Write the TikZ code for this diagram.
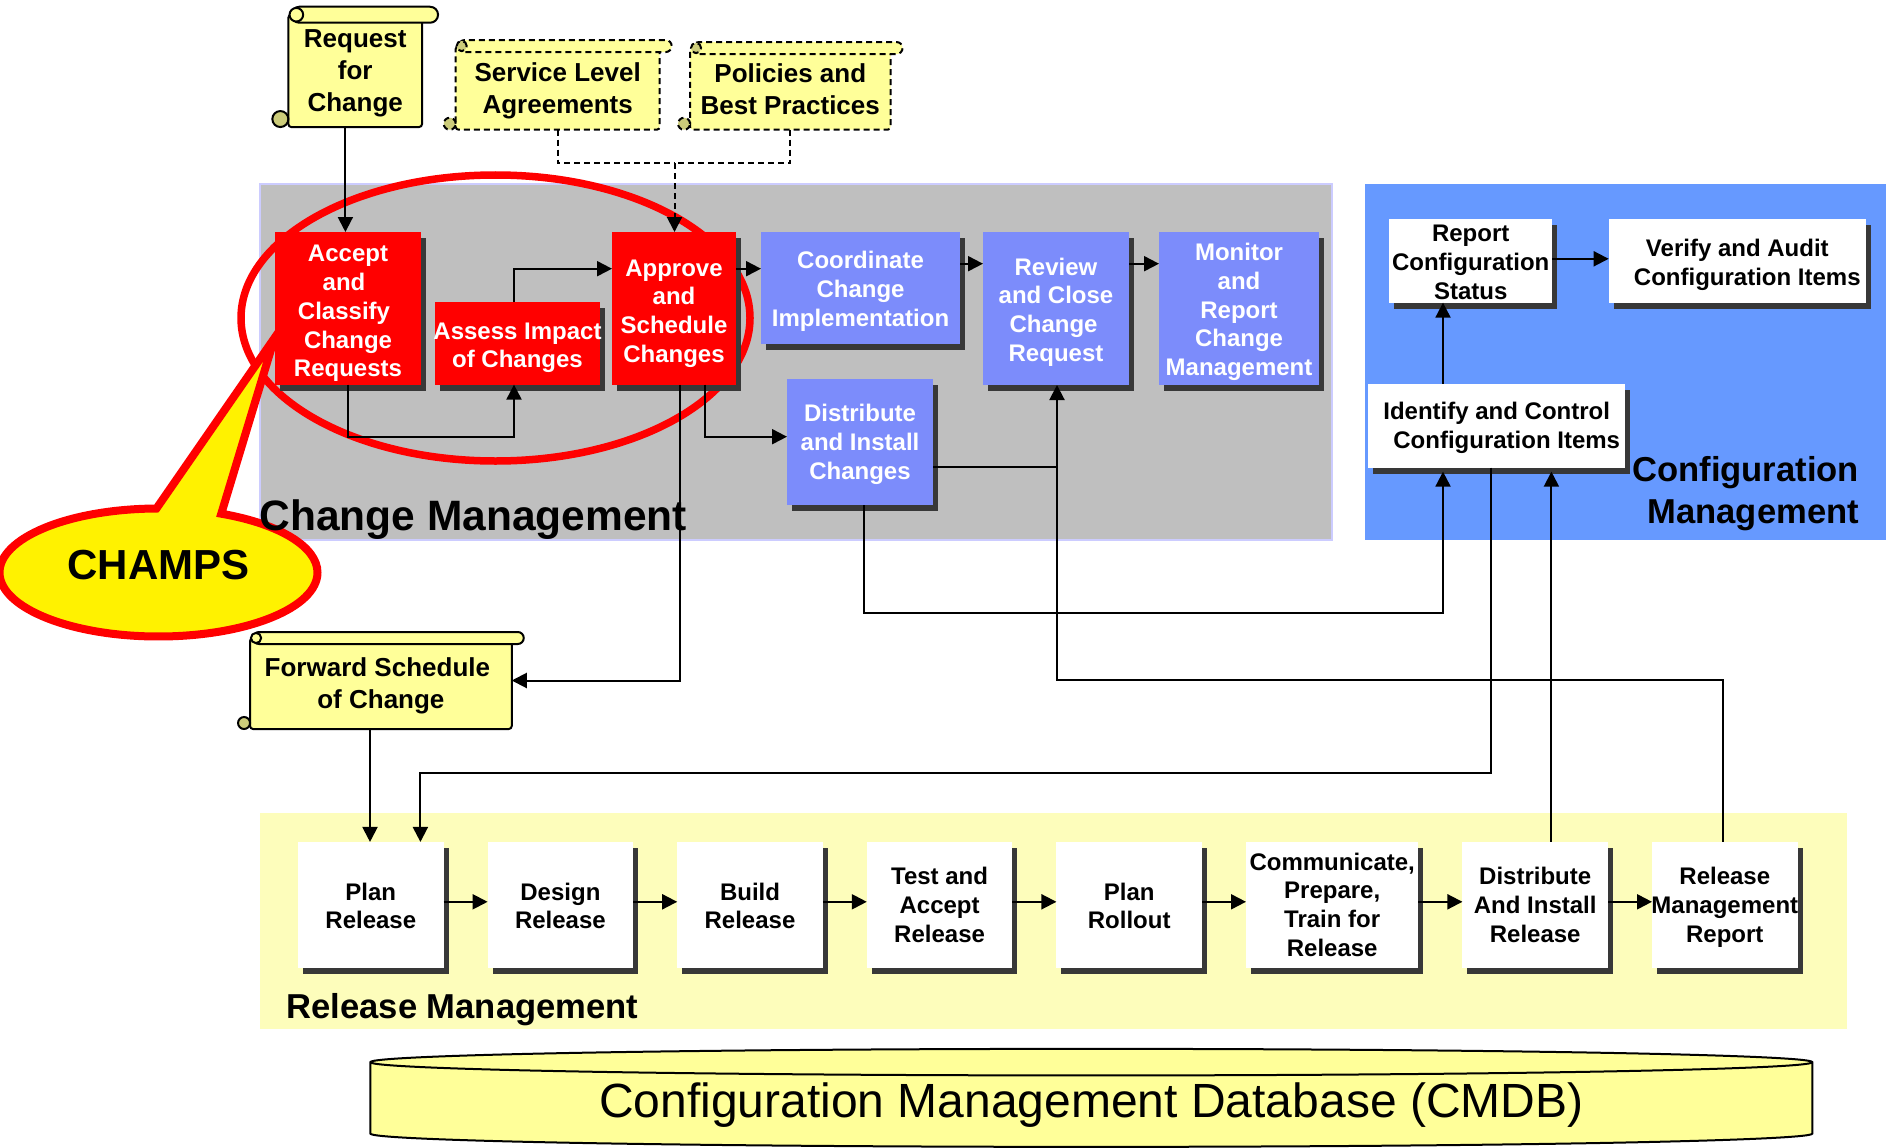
\documentclass[tikz,border=0pt]{standalone}
\usepackage{fontspec}
\setmainfont{Liberation Sans}
\usetikzlibrary{arrows.meta,positioning,shapes.geometric,shapes.callouts,shadows}

\definecolor{panelgrey}{HTML}{BFBFBF}
\definecolor{panelline}{HTML}{CCCCFF}
\definecolor{panelblue}{HTML}{6699FF}
\definecolor{panelyellow}{HTML}{FDFDBB}
\definecolor{boxblue}{HTML}{7C8CFB}
\definecolor{docyellow}{HTML}{FFFF99}
\definecolor{docdark}{HTML}{CCCC7A}
\definecolor{shadowgrey}{HTML}{383838}

\newcommand{\firstline}[1]{\rule{0pt}{#1pt}}

\begin{document}
\begin{tikzpicture}[%
	x=1pt, y=-1pt,
	>={Triangle[length=15pt,width=15pt]},
	line width=2pt,
	boxtext/.style={font=\fontsize{24}{28.8}\selectfont\bfseries},
	doctext/.style={font=\fontsize{26}{32}\selectfont\bfseries},
	box/.style={boxtext, align=center, inner ysep=0pt, inner xsep=-5pt, outer sep=0pt,
		general shadow={fill=shadowgrey, shadow xshift=5pt, shadow yshift=-6pt}},
	redbox/.style={box, fill=red, text=white},
	bluebox/.style={box, fill=boxblue, text=white},
	whitebox/.style={box, fill=white},
	relbox/.style={whitebox, minimum height=125.7pt, minimum width=145.6pt},
	dashline/.style={dash pattern=on 6pt off 4pt},
	arr/.style={draw,->},
	scroll/.style={doctext, draw, fill=docyellow, rounded corners=3pt, align=center,
		inner sep=0pt, outer sep=0pt},
	panellabel/.style={font=\fontsize{#1}{42}\selectfont\bfseries}
]

\useasboundingbox (0,0) rectangle (1886,1147.5);

% panels
\fill[panelline] (259,183.5) rectangle (1332.5,541);
\fill[panelgrey] (261,185.5) rectangle (1330.5,539);
\fill[panelblue] (1365,184) rectangle (1886,540);
\fill[panelyellow] (260,813) rectangle (1847,1029);

\node[cylinder, shape border rotate=90, draw, line width=2pt, aspect=0.027,
	cylinder uses custom fill, cylinder body fill=docyellow, cylinder end fill=docyellow,
	minimum height=98pt, minimum width=1442pt, inner sep=0pt,
	font=\fontsize{48}{56}\selectfont] (cmdb) at (1091.3,1105) {\raisebox{-17pt}{Configuration Management Database (CMDB)}};

\node[ellipse, draw=red, line width=7.5pt, minimum width=509pt, minimum height=286pt, inner sep=0pt] (ring) at (495.5,318) {};
\node[ellipse callout, draw=red, fill=yellow, line width=8pt, minimum width=318pt, minimum height=128pt, inner sep=0pt,
	callout absolute pointer={(274.5,338)}, callout pointer arc=24,
	font=\fontsize{42}{50}\selectfont\bfseries] (champs) at (158.5,572.5) {\raisebox{16pt}{CHAMPS}};

\node[font=\fontsize{42.5}{50}\selectfont\bfseries, anchor=base west, inner sep=0pt] (changelabel) at (258.5,530) {Change Management};
\node[panellabel=34.6, anchor=base west, inner sep=0pt] (releaselabel) at (285.5,1018) {Release Management};
\node[panellabel=34.6, align=right, anchor=base east, inner sep=0pt] (configlabel) at (1860,523) {Configuration\\Management};

% documents
\node[scroll, minimum width=133.7pt, minimum height=112.3pt] (rfc) at (355.2,70.9) {\firstline{23.4}Request\\for\\Change};
\node[scroll, dashline, minimum width=204pt, minimum height=83.7pt] (sla) at (557.7,87.9) {\firstline{23.8}Service Level\\Agreements};
\node[scroll, dashline, minimum width=200.5pt, minimum height=81.7pt] (pol) at (790.3,88.9) {\firstline{20.2}Policies and\\Best Practices};
\node[scroll, minimum width=261.7pt, minimum height=91pt] (forward) at (380.9,683.5) {\firstline{23}Forward Schedule\hspace*{7pt}\\of Change};

\foreach \name/\rad/\sty/\curl in {rfc/8/solid/docyellow,sla/6/dashline/docdark,pol/6/dashline/docdark,forward/6/solid/docyellow} {
	\draw[\sty, fill=docyellow, rounded corners=\rad pt]
		([xshift=3pt,yshift=\rad pt]\name.north west) rectangle ([xshift=2*\rad pt,yshift=-\rad pt]\name.north east);
	\draw[\sty, fill=\curl] ([xshift=\rad pt]\name.north west) circle[radius=0.85*\rad pt];
	\draw[\sty, fill=docdark] ([xshift=-\rad pt,yshift=\rad pt]\name.south west) circle[radius=\rad pt];
}

% change management
\node[redbox, minimum width=146pt, minimum height=152.6pt] (accept) at (348,308.3) {\firstline{27}Accept\\and\rule{8pt}{0pt}\\Classify\rule{8pt}{0pt}\\Change\\Requests};
\node[redbox, minimum width=165pt, minimum height=82.6pt] (assess) at (517.5,343.3) {\firstline{25.6}Assess Impact\\of Changes};
\node[redbox, minimum width=124pt, minimum height=152.6pt] (approve) at (674,308.3) {\firstline{27}Approve\\and\\Schedule\\Changes};
\node[bluebox, minimum width=199pt, minimum height=112pt] (coord) at (860.5,288) {\firstline{24.4}Coordinate\\Change\\Implementation};
\node[bluebox, minimum width=146pt, minimum height=153pt] (review) at (1056,308.5) {\firstline{24.4}Review\\and Close\\Change\rule{5pt}{0pt}\\Request};
\node[bluebox, minimum width=160pt, minimum height=153pt] (monitor) at (1239,308.5) {\firstline{24.4}Monitor\\and\\Report\\Change\\Management};
\node[bluebox, minimum width=146pt, minimum height=126pt] (distc) at (860,442) {\firstline{22.4}Distribute\\and Install\\Changes};

% configuration management
\node[whitebox, minimum width=163.5pt, minimum height=83.7pt] (report) at (1470.7,260.8) {\firstline{19.6}Report\\Configuration\\Status};
\node[whitebox, minimum width=257.3pt, minimum height=83.7pt] (verify) at (1737.3,260.8) {\firstline{25.6}Verify and Audit\\\hspace*{20pt}Configuration Items};
\node[whitebox, minimum width=257.4pt, minimum height=83.7pt] (identify) at (1496.7,425.8) {\firstline{22}Identify and Control\\\hspace*{20pt}Configuration Items};

% release management
\node[relbox] (plan) at (370.8,904.8) {\firstline{19.6}Plan\\Release};
\node[relbox, right=44pt of plan] (design) {\firstline{19.6}Design\\Release};
\node[relbox, right=44pt of design] (build) {\firstline{19.6}Build\\Release};
\node[relbox, right=44pt of build] (test) {Test and\\Accept\\Release};
\node[relbox, right=44pt of test] (rollout) {\firstline{19.6}Plan\\Rollout};
\node[relbox, minimum width=172.4pt, right=44pt of rollout] (comm) {Communicate,\\Prepare,\\Train for\\Release};
\node[relbox, right=44pt of comm] (distr) {Distribute\\And Install\\Release};
\node[relbox, right=44pt of distr] (relrep) {\firstline{22}Release\\Management\\Report};

\coordinate (rfcdrop) at (345.4,180);
\coordinate (dashjoin) at (674.5,163.3);
\coordinate (assessx) at (514,436.7);
\coordinate (approvein) at (612,268.7);
\coordinate (reviewin) at (983,263.7);
\coordinate (fscdrop) at (679.6,680.5);
\coordinate (distdrop) at (705,436.7);
\coordinate (distout) at (933,467);
\coordinate (reviewx) at (1057,680);
\coordinate (relx) at (1722.5,680);
\coordinate (iddrop) at (863.7,613.3);
\coordinate (reportup) at (1443,613.3);
\coordinate (planin) at (1490.7,772.7);
\coordinate (planleft) at (420.4,772.7);
\coordinate (plandrop) at (370,760);
\coordinate (idin) at (1551.4,600);

\path[arr] (rfcdrop |- rfc.south) -- (rfcdrop |- accept.north);
\path[draw,dashline] (sla.south) |- (dashjoin);
\path[draw,dashline] (pol.south) |- (dashjoin);
\path[arr,dashline] (dashjoin) -- (dashjoin |- approve.north);

\path[arr] (accept.south) |- (assessx) -- (assessx |- assess.south);
\path[arr] (assessx |- assess.north) |- (approvein);
\path[arr] (approve.east |- approvein) -- (coord.west |- approvein);
\path[arr] (coord.east |- reviewin) -- (reviewin);
\path[arr] (review.east |- reviewin) -- (monitor.west |- reviewin);
\path[arr] (fscdrop |- approve.south) |- (forward.east |- fscdrop);
\path[arr] (distdrop |- approve.south) |- (distc.west |- distdrop);
\path[draw] (distout) -- (reviewx |- distout);
\path[arr] (relx |- relrep.north) -- (relx) -- (reviewx) -- (reviewx |- review.south);

\path[arr] (iddrop |- distc.south) -- (iddrop) -- (reportup) -- ([yshift=-4pt]reportup |- identify.south);
\path[arr] (reportup |- identify.north) -- (reportup |- report.south);
\path[arr] ([yshift=2pt]report.east) -- ([yshift=2pt]verify.west);
\path[arr] (planin |- identify.south) -- (planin) -- (planleft) -- (planleft |- plan.north);
\path[arr] (plandrop |- forward.south) -- (plandrop |- plan.north);
\path[arr] (idin |- distr.north) -- ([yshift=-4pt]idin |- identify.south);

\foreach \from/\to in {plan/design,design/build,build/test,test/rollout,rollout/comm,comm/distr,distr/relrep}
	\path[arr] ([yshift=3pt]\from.east) -- ([yshift=3pt]\to.west);

\end{tikzpicture}
\end{document}
